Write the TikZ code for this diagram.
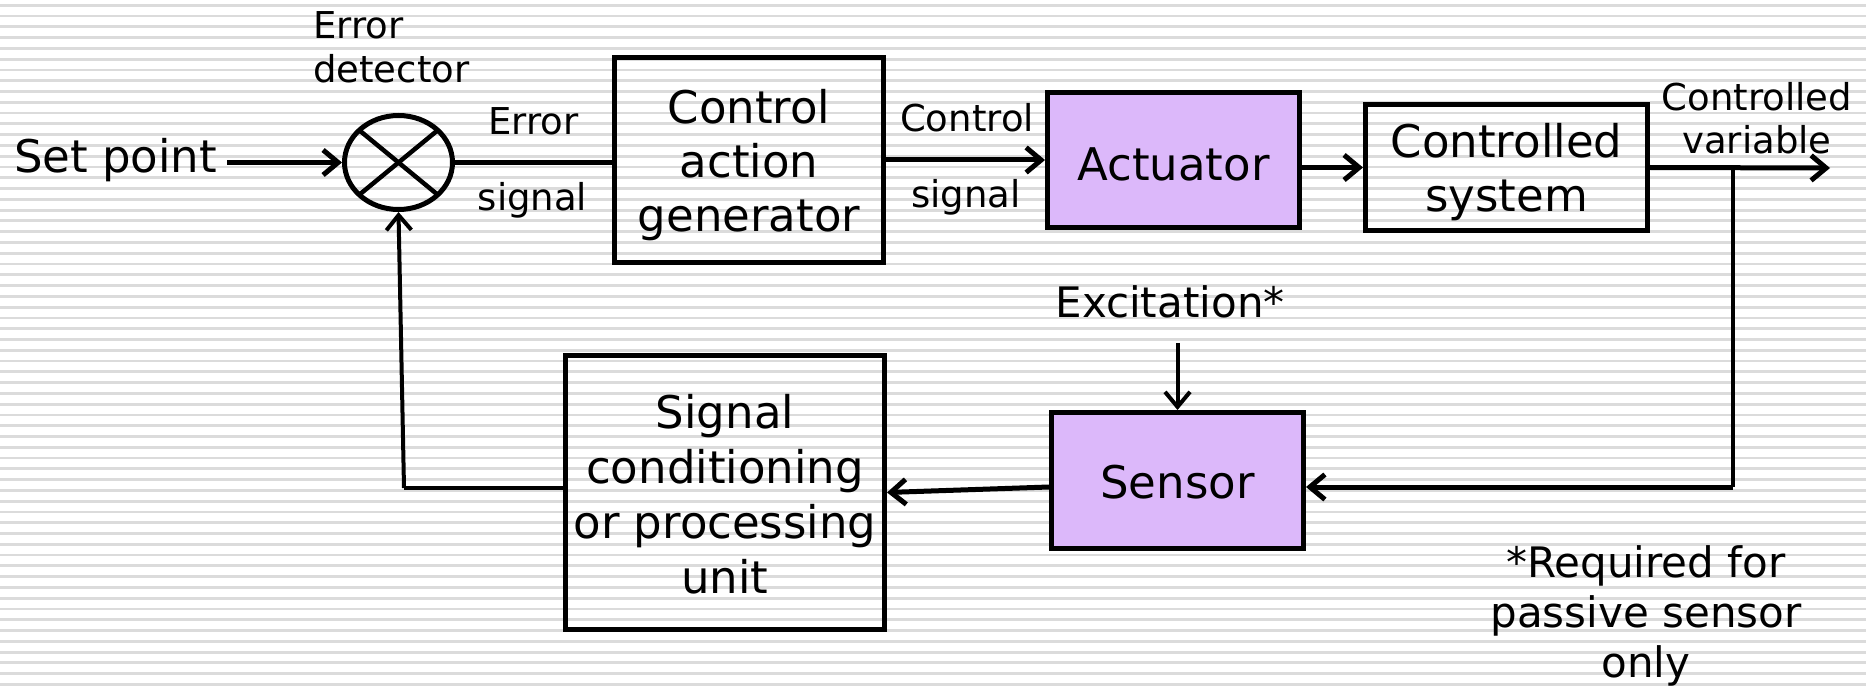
\documentclass[tikz,border=0pt]{standalone}
\usepackage{fontspec}
\setmainfont{DejaVu Sans}
\usetikzlibrary{arrows.meta,shapes.geometric,calc}
\definecolor{lav}{HTML}{DCB8FA}
\definecolor{stripecol}{gray}{0.86}
\begin{document}
\begin{tikzpicture}[x=1pt,y=-1pt,
  box/.style={draw=black,line width=5pt,inner sep=0pt},
  lbl/.style={inner sep=0pt,font=\fontsize{37}{44}\selectfont},
  big/.style={inner sep=0pt,font=\fontsize{45}{54}\selectfont},
  arr/.style={line width=5pt,-{Straight Barb[length=15pt,width=25pt]}},
  ln/.style={line width=5pt}]
\useasboundingbox (0,0) rectangle (1866,687);
\fill[white] (0,0) rectangle (1866,687);
\foreach \i in {0,...,63}
  \draw[draw=stripecol,line width=2.8pt] (0,{5.3+10.78*\i}) -- (1866,{5.3+10.78*\i});

% boxes
\node[box,minimum width=269pt,minimum height=205pt] (cag) at (749,160) {};
\node[box,fill=lav,minimum width=252pt,minimum height=135pt] (act) at (1173.5,160) {};
\node[box,minimum width=282pt,minimum height=126pt] (cs) at (1506.5,167.5) {};
\node[box,fill=lav,minimum width=252pt,minimum height=136pt] (sen) at (1177.5,480.5) {};
\node[box,minimum width=319pt,minimum height=274pt] (sc) at (725,492.5) {};
\node[draw,ellipse,line width=5pt,inner sep=0pt,minimum width=108pt,minimum height=94pt] (sum) at (398.5,162.5) {};
\draw[line width=4.5pt] ($(sum.center)+(-39.5,-32.5)$) -- ($(sum.center)+(39.5,32.5)$);
\draw[line width=4.5pt] ($(sum.center)+(-39.5,32.5)$) -- ($(sum.center)+(39.5,-32.5)$);

% box texts
\node[big,anchor=north,align=center] (cagt) at (749,88.8) {Control\\action\\generator};
\node[big,anchor=base] (actt) at (1173.5,181) {Actuator};
\node[big,anchor=north,align=center] (cst) at (1506.5,122.8) {Controlled\\system};
\node[big,anchor=base] (sent) at (1177.5,498) {Sensor};
\node[big,font=\fontsize{45}{55}\selectfont,anchor=north,align=center] (sct) at (725,393.8) {Signal\\conditioning\\or processing\\unit};

% labels
\node[big,anchor=base west] (sp) at (14,173) {Set point};
\node[lbl,anchor=north west,align=left] (ed) at (313,11) {Error\\detector};
\node[lbl,anchor=base] (el) at (533.5,135) {Error};
\node[lbl,anchor=base] (es) at (532.5,211) {signal};
\node[lbl,anchor=base] (cl) at (967,132) {Control};
\node[lbl,anchor=base] (cls) at (966,208) {signal};
\node[lbl,font=\fontsize{37}{43}\selectfont,anchor=north,align=center] (cv) at (1757,82) {Controlled\\variable};
\node[inner sep=0pt,font=\fontsize{42}{50}\selectfont,anchor=base] (exc) at (1170,317) {Excitation*};
\node[inner sep=0pt,font=\fontsize{42}{50}\selectfont,anchor=north,align=center] (req) at (1646,545) {*Required for\\passive sensor\\only};

% coordinates
\coordinate (out) at (1830,168);
\coordinate (br) at (1733,168);
\coordinate (brd) at (1733,487);
\coordinate (fbc) at (404,488);

% connectors
\draw[arr,shorten <=10pt] (sp.east |- sum.west) -- (sum.west);
\draw[ln] (sum.east) -- (cag.west |- sum.east);
\draw[arr] (cag.east) -- (act.west);
\draw[arr] (act.east |- cs.west) -- (cs.west);
\draw[arr] (cs.east) -- (out);
\draw[line width=4pt] (br) -- (brd);
\draw[arr] (brd) -- (sen.east |- brd);
\draw[arr,line width=4pt,shorten <=25pt] (sen.north |- exc.south) -- (sen.north);
\draw[arr] (sen.west |- brd) -- (sc.east);
\draw[line width=4.5pt] (sc.west |- fbc) -- (fbc);
\draw[arr,line width=4pt] (fbc) -- (sum.south);
\end{tikzpicture}
\end{document}
